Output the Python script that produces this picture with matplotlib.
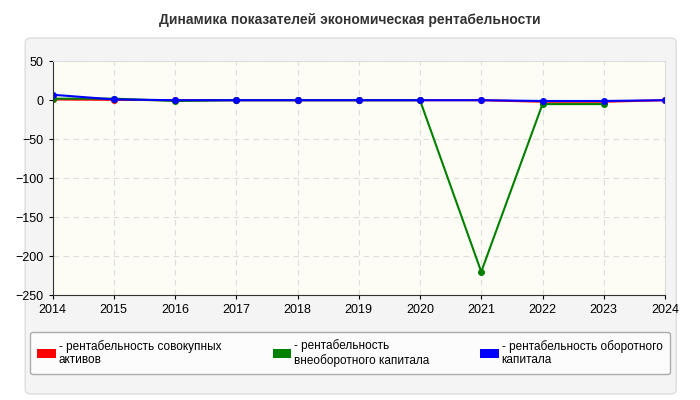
import matplotlib
matplotlib.use("Agg")
import matplotlib.pyplot as plt
from matplotlib.patches import FancyBboxPatch

plt.rcParams["font.family"] = ["Liberation Sans", "DejaVu Sans"]

years = [2014, 2015, 2016, 2017, 2018, 2019, 2020, 2021, 2022, 2023, 2024]
assets = [1, 0.5, 0, 0, 0, 0, 0, 0, -2, -2, 0]
noncurrent = [2, 2, -1, 0, 0, 0, 0, -220, -5, -5, None]
current = [7, 1, 0, 0, 0, 0, 0, 0, -1, -1, 0]
series = [
    ("- рентабельность совокупных\nактивов", assets, "#ff0000"),
    ("- рентабельность\nвнеоборотного капитала", noncurrent, "#008000"),
    ("- рентабельность оборотного\nкапитала", current, "#0000ff"),
]

fig = plt.figure(figsize=(7, 4), dpi=100, facecolor="white")
bg = fig.add_axes([0, 0, 1, 1], zorder=-10)
bg.axis("off")
bg.set_xlim(0, 1)
bg.set_ylim(0, 1)
bg.add_patch(FancyBboxPatch((0.036, 0.015), 0.93, 0.89, boxstyle="round,pad=0,rounding_size=0.01",
                            fc="#f4f4f4", ec="#dddddd"))
fig.text(0.5, 0.95, "Динамика показателей экономическая рентабельности", ha="center", va="center",
         fontsize=10, fontweight="bold", color="#333333")
ax = fig.add_axes([0.075, 0.262, 0.875, 0.585])
ax.set_facecolor("#fdfdf5")
for name, vals, col in series:
    xs = [x for x, v in zip(years, vals) if v is not None]
    ys = [v for v in vals if v is not None]
    ax.plot(xs, ys, color=col, lw=1.5, marker="o", ms=4, label=name)
ax.set_xlim(2014, 2024)
ax.set_ylim(-250, 50)
ax.set_xticks(years)
ax.set_yticks(range(-250, 51, 50))
ax.tick_params(labelsize=9, length=3)
ax.grid(True, ls=(0, (5, 4)), color="#dddddd", lw=0.8)
for s in ["top", "right"]:
    ax.spines[s].set_color("#dddddd")
for s in ["left", "bottom"]:
    ax.spines[s].set_color("#333333")

handles = [plt.Rectangle((0, 0), 1, 1, fc=c) for _, _, c in series]
fig.legend(handles, [n for n, _, _ in series], loc="lower center", bbox_to_anchor=(0.5, 0.045),
           ncol=3, fontsize=8.5, frameon=True, edgecolor="#999999", facecolor="white",
           handlelength=1.6, handleheight=0.8, handletextpad=0.2, columnspacing=2.0,
           borderpad=0.7, fancybox=True, mode="expand") if False else None
leg = fig.legend(handles, [n for n, _, _ in series], loc="lower left",
                 bbox_to_anchor=(0.035, 0.05, 0.93, 0.12), mode="expand",
                 ncol=3, fontsize=8.5, frameon=True, edgecolor="#999999", facecolor="white",
                 handlelength=1.6, handleheight=0.8, handletextpad=0.2, borderpad=0.6,
                 fancybox=True)
fig.savefig("out.png", dpi=100)
